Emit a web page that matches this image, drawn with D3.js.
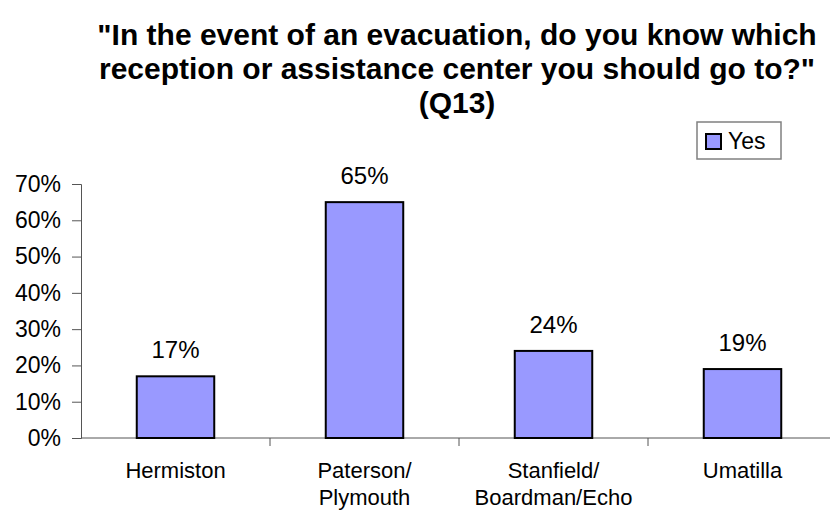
<!DOCTYPE html>
<html><head><meta charset="utf-8">
<script src="https://cdn.jsdelivr.net/npm/d3@7"></script>
<style>body{margin:0;background:#fff;} svg{display:block;font-family:Arial,"Liberation Sans",sans-serif;}</style>
</head><body>
<script>
const titleLines = ['"In the event of an evacuation, do you know which', 'reception or assistance center you should go to?"', '(Q13)'];
const categories = ["Hermiston", "Paterson/\nPlymouth", "Stanfield/\nBoardman/Echo", "Umatilla"];
const seriesName = "Yes";
const values = [17, 65, 24, 19];
const yTicks = [0, 10, 20, 30, 40, 50, 60, 70];

const W = 830, H = 511;
const svg = d3.select("body").append("svg").attr("width", W).attr("height", H);

const x = d3.scaleBand().domain(categories).range([81, 837]).paddingInner(0.59).paddingOuter(0.295);
const xb = d3.scaleBand().domain(categories).range([81, 837]);
const y = d3.scaleLinear().domain([0, 70]).range([438, 184]);

// title
svg.append("g").selectAll("text").data(titleLines).join("text")
  .attr("x", 457).attr("y", (d, i) => [45, 79, 113][i])
  .attr("text-anchor", "middle").attr("font-weight", "bold").attr("font-size", 30)
  .text(d => d);

// y axis
const yAxis = d3.axisLeft(y).tickValues(yTicks).tickSize(9).tickPadding(11).tickFormat(d => d + "%");
const gy = svg.append("g").attr("transform", "translate(81,0)").call(yAxis);
gy.select(".domain").attr("stroke", "#555");
gy.selectAll(".tick line").attr("stroke", "#555");
gy.selectAll(".tick text").attr("font-size", 23).attr("fill", "#000").attr("font-family", "Arial, 'Liberation Sans', sans-serif");

// x axis line
svg.append("line").attr("x1", 81).attr("x2", 837).attr("y1", y(0)).attr("y2", y(0)).attr("stroke", "#555");
// category separator ticks
svg.append("g").selectAll("line").data(categories.slice(1)).join("line")
  .attr("x1", d => xb(d)).attr("x2", d => xb(d))
  .attr("y1", y(0)).attr("y2", y(0) + 8).attr("stroke", "#555");

// bars
svg.append("g").selectAll("rect").data(values).join("rect")
  .attr("x", (d, i) => x(categories[i]))
  .attr("width", x.bandwidth())
  .attr("y", d => y(d))
  .attr("height", d => y(0) - y(d))
  .attr("fill", "#9999ff").attr("stroke", "#000").attr("stroke-width", 2);

// value labels
svg.append("g").selectAll("text").data(values).join("text")
  .attr("x", (d, i) => xb(categories[i]) + xb.bandwidth() / 2)
  .attr("y", d => y(d) - 18)
  .attr("text-anchor", "middle").attr("font-size", 24)
  .text(d => d + "%");

// category labels
const cl = svg.append("g").selectAll("text").data(categories).join("text")
  .attr("x", d => xb(d) + xb.bandwidth() / 2)
  .attr("y", 478).attr("text-anchor", "middle").attr("font-size", 22);
cl.selectAll("tspan").data(d => d.split("\n")).join("tspan")
  .attr("x", function () { return d3.select(this.parentNode).attr("x"); })
  .attr("dy", (d, i) => i === 0 ? 0 : 27).text(d => d);

// legend
const lg = svg.append("g");
lg.append("rect").attr("x", 697).attr("y", 122).attr("width", 84).attr("height", 37)
  .attr("fill", "#fff").attr("stroke", "#808080").attr("stroke-width", 1.5);
lg.append("rect").attr("x", 706).attr("y", 134).attr("width", 15).attr("height", 15)
  .attr("fill", "#9999ff").attr("stroke", "#000").attr("stroke-width", 2);
lg.append("text").attr("x", 728).attr("y", 149).attr("font-size", 23).text(seriesName);
</script>
</body></html>
